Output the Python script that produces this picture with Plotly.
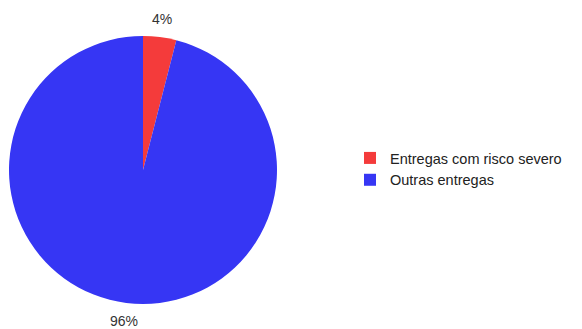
import math
import plotly.graph_objects as go

labels = ["Entregas com risco severo", "Outras entregas"]
values = [4, 96]
colors = ["#F43B3B", "#3636F4"]

W, H = 582, 329
# pie geometry in pixels (centre and radius)
cx, cy, r = 143, 170, 134
off = 8  # page body margin offset

fig = go.Figure(go.Pie(
    labels=labels, values=values, sort=False, direction="clockwise", rotation=0,
    marker=dict(colors=colors, line=dict(width=0)),
    textinfo="none",
    domain=dict(x=[(cx - r - off) / W, (cx + r - off) / W],
                y=[1 - (cy + r - off) / H, 1 - (cy - r - off) / H]),
    automargin=False, hoverinfo="label+percent",
))

# percentage labels placed outside at each slice's mid-angle
total = sum(values)
cum = 0
annotations = []
for v in values:
    mid = (cum + v / 2) / total * 2 * math.pi
    cum += v
    lr = r + 18
    x = cx + lr * math.sin(mid) - off
    y = cy - lr * math.cos(mid) - off
    annotations.append(dict(
        x=x / W, y=1 - y / H, xref="paper", yref="paper",
        text=f"{round(v / total * 100)}%", showarrow=False,
        xanchor="center", yanchor="middle",
        font=dict(family="Liberation Sans, Arial", size=14, color="#333333"),
    ))

fig.update_layout(
    width=W, height=H, margin=dict(l=0, r=0, t=0, b=0),
    paper_bgcolor="white", plot_bgcolor="white",
    annotations=annotations,
    legend=dict(x=342 / W, y=1 - 134 / H, xanchor="left", yanchor="top",
                font=dict(family="Liberation Sans, Arial", size=14.5, color="#222222"),
                tracegroupgap=0, itemwidth=30),
)
fig.write_html("out.html")
